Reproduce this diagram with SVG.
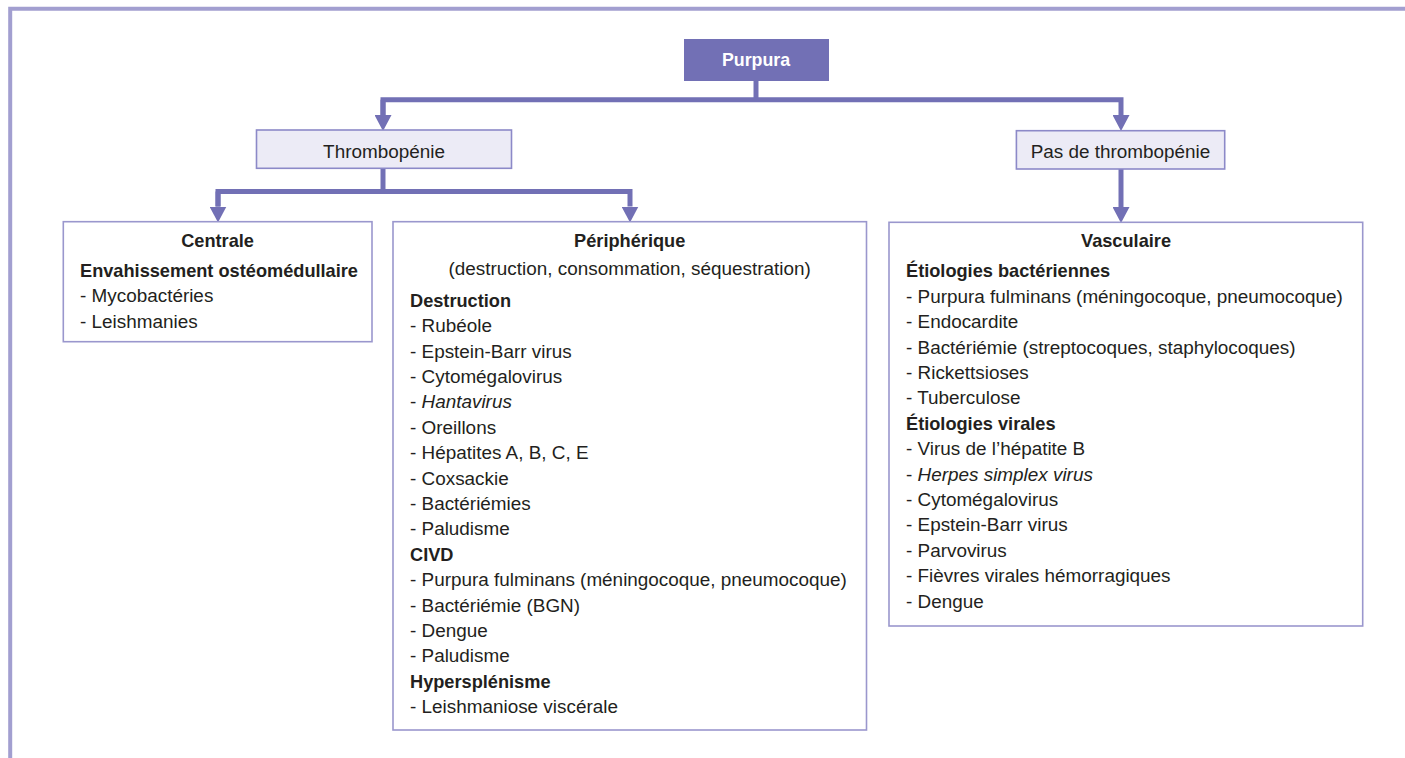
<svg xmlns="http://www.w3.org/2000/svg" width="1405" height="758" viewBox="0 0 1405 758">
<defs>
<style>
.t{font-family:"Liberation Sans",Arial,sans-serif;font-size:18.9px;fill:#231f20}
.b{font-weight:bold;font-size:18.2px}
.i{font-style:italic}
.c{text-anchor:middle}
.box{fill:#ffffff;stroke:#9a97cd;stroke-width:1.6}
.lbox{fill:#ecebf6;stroke:#8c89c8;stroke-width:1.6}
.con{fill:none;stroke:#7270b5;stroke-width:5;stroke-linejoin:miter}
</style>
<marker id="ah" markerUnits="userSpaceOnUse" markerWidth="16" markerHeight="17" viewBox="0 0 16 17" refX="0" refY="8.5" orient="auto">
<path d="M0,0 L16,8.5 L0,17 Z" fill="#7270b5"/>
</marker>
</defs>
<rect width="1405" height="758" fill="#ffffff"/>
<path d="M10.2,758 V8.7 H1405" fill="none" stroke="#a29fd0" stroke-width="4"/>

<g id="connectors">
<path class="con" d="M756,81 V99.7"/>
<path class="con" d="M383,115 V99.7 H1121 V115" marker-end="url(#ah)"/>
<path class="con" d="M383,99.7 V115" marker-end="url(#ah)"/>
<path class="con" d="M383,168 V191.5"/>
<path class="con" d="M218,206.5 V191.5 H630 V206.5" marker-end="url(#ah)"/>
<path class="con" d="M218,191.5 V206.5" marker-end="url(#ah)"/>
<path class="con" d="M1121,169 V207" marker-end="url(#ah)"/>
</g>

<g id="purpura">
<rect x="684" y="39" width="145" height="42" fill="#7270b5"/>
<text class="t b c" x="756" y="65.7" style="fill:#ffffff;font-size:17.8px">Purpura</text>
</g>

<g id="thrombopenie">
<rect class="lbox" x="256.5" y="130" width="255" height="38.3"/>
<text class="t c" x="384" y="158">Thrombopénie</text>
</g>

<g id="pas-thrombopenie">
<rect class="lbox" x="1016.4" y="130.7" width="208.3" height="38.3"/>
<text class="t c" x="1120.5" y="158.3">Pas de thrombopénie</text>
</g>

<g id="centrale">
<rect class="box" x="63.3" y="221.7" width="308.7" height="120"/>
<text class="t b c" x="217.6" y="247">Centrale</text>
<text class="t b" x="80" y="276.7">Envahissement ostéomédullaire</text>
<text class="t" x="80" y="302.1">- Mycobactéries</text>
<text class="t" x="80" y="327.5">- Leishmanies</text>
</g>

<g id="peripherique">
<rect class="box" x="393" y="221.7" width="473.5" height="508.3"/>
<text class="t b c" x="629.7" y="247">Périphérique</text>
<text class="t c" x="629.7" y="275">(destruction, consommation, séquestration)</text>
<text class="t b" x="410" y="306.7">Destruction</text>
<text class="t" x="410" y="332.1">- Rubéole</text>
<text class="t" x="410" y="357.5">- Epstein-Barr virus</text>
<text class="t" x="410" y="382.9">- Cytomégalovirus</text>
<text class="t" x="410" y="408.3">- <tspan class="i">Hantavirus</tspan></text>
<text class="t" x="410" y="433.7">- Oreillons</text>
<text class="t" x="410" y="459.1">- Hépatites A, B, C, E</text>
<text class="t" x="410" y="484.5">- Coxsackie</text>
<text class="t" x="410" y="509.9">- Bactériémies</text>
<text class="t" x="410" y="535.3">- Paludisme</text>
<text class="t b" x="410" y="560.7">CIVD</text>
<text class="t" x="410" y="586.1">- Purpura fulminans (méningocoque, pneumocoque)</text>
<text class="t" x="410" y="611.5">- Bactériémie (BGN)</text>
<text class="t" x="410" y="636.9">- Dengue</text>
<text class="t" x="410" y="662.3">- Paludisme</text>
<text class="t b" x="410" y="687.7">Hypersplénisme</text>
<text class="t" x="410" y="713.1">- Leishmaniose viscérale</text>
</g>

<g id="vasculaire">
<rect class="box" x="889" y="222.3" width="473.7" height="403.7"/>
<text class="t b c" x="1126" y="246.7">Vasculaire</text>
<text class="t b" x="906" y="277.3">Étiologies bactériennes</text>
<text class="t" x="906" y="302.7">- Purpura fulminans (méningocoque, pneumocoque)</text>
<text class="t" x="906" y="328.1">- Endocardite</text>
<text class="t" x="906" y="353.5">- Bactériémie (streptocoques, staphylocoques)</text>
<text class="t" x="906" y="378.9">- Rickettsioses</text>
<text class="t" x="906" y="404.3">- Tuberculose</text>
<text class="t b" x="906" y="429.7">Étiologies virales</text>
<text class="t" x="906" y="455.1">- Virus de l’hépatite B</text>
<text class="t" x="906" y="480.5">- <tspan class="i">Herpes simplex virus</tspan></text>
<text class="t" x="906" y="505.9">- Cytomégalovirus</text>
<text class="t" x="906" y="531.3">- Epstein-Barr virus</text>
<text class="t" x="906" y="556.7">- Parvovirus</text>
<text class="t" x="906" y="582.1">- Fièvres virales hémorragiques</text>
<text class="t" x="906" y="607.5">- Dengue</text>
</g>
</svg>
